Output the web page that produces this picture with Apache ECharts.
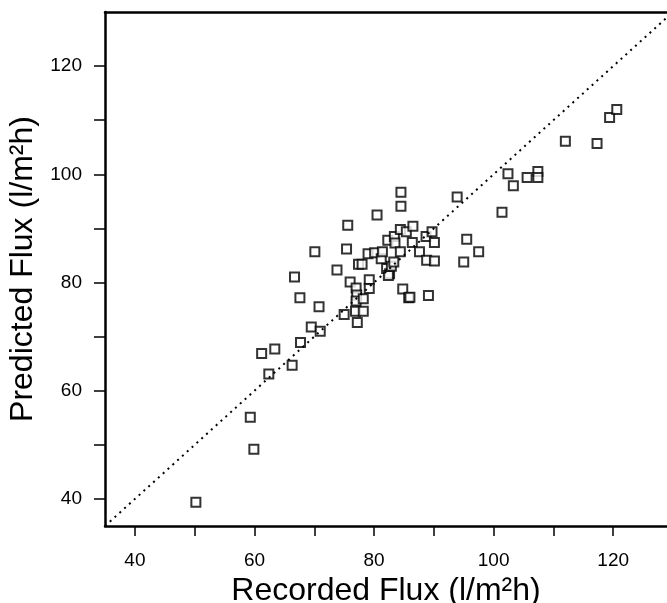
<!DOCTYPE html>
<html>
<head>
<meta charset="utf-8">
<script src="https://cdn.jsdelivr.net/npm/echarts@6/dist/echarts.min.js"></script>
<style>
  html, body { margin: 0; padding: 0; background: #fff; }
  #chart { width: 667px; height: 603px; }
</style>
</head>
<body>
<div id="chart"></div>
<script>
// recorded flux (l/m2h)
var recorded = [
  50.2, 59.3, 59.9, 61.2, 63.4, 62.4, 66.3, 66.7, 67.6, 67.7,
  69.5, 70.1, 70.8, 71.0, 73.8, 75.0, 75.4, 75.6, 76.0, 77.0,
  77.1, 77.0, 76.9, 77.2, 78.2, 78.2, 77.4, 78.0, 79.0, 80.1,
  79.2, 79.2, 80.5, 81.2, 81.4, 82.3, 82.1, 82.6, 82.4, 82.9,
  83.3, 83.4, 83.5, 84.4, 84.5, 84.5, 84.4, 85.4, 84.8, 85.8,
  86.0, 86.5, 86.4, 87.6, 88.7, 88.8, 89.1, 89.7, 90.1, 90.1,
  93.9, 95.0, 95.5, 97.5, 101.4, 102.4, 103.3, 105.6, 107.4, 107.4,
  112.0, 117.3, 119.4, 120.6
];
// predicted flux (l/m2h)
var predicted = [
  39.4, 55.1, 49.2, 66.9, 67.7, 63.1, 64.7, 81.0, 77.2, 68.9,
  71.8, 85.7, 75.5, 71.0, 82.3, 74.1, 86.2, 90.6, 80.1, 79.0,
  77.7, 76.6, 74.7, 72.6, 74.7, 77.0, 83.4, 83.4, 85.3, 85.5,
  80.5, 78.9, 92.5, 84.4, 85.7, 87.8, 82.6, 81.6, 81.3, 83.0,
  83.8, 88.5, 87.3, 89.8, 96.7, 94.1, 85.7, 89.4, 78.8, 77.2,
  77.3, 90.4, 87.4, 85.7, 88.5, 84.1, 77.6, 89.4, 87.4, 84.0,
  95.8, 83.8, 88.0, 85.7, 93.0, 100.1, 97.9, 99.4, 100.5, 99.4,
  106.1, 105.7, 110.5, 112.0
];
// y = x reference line ends
var diagonal = [35, 129];
var tickValues = [40, 50, 60, 70, 80, 90, 100, 110, 120];
var labelValues = [40, 60, 80, 100, 120];

var points = recorded.map(function (x, i) { return [x, predicted[i]]; });
var lineData = diagonal.map(function (v) { return [v, v]; });

var font = 'Liberation Sans';
var chart = echarts.init(document.getElementById('chart'));
chart.setOption({
  animation: false,
  backgroundColor: '#fff',
  grid: { left: 105, right: 0, top: 12, bottom: 77, outerBoundsMode: 'none', containLabel: false },
  xAxis: [{
    type: 'value', min: 35, max: 129,
    name: 'Recorded Flux (l/m²h)', nameLocation: 'middle', nameGap: 44,
    nameTextStyle: { fontFamily: font, fontSize: 32, color: '#000' },
    axisLine: { show: true, onZero: false, lineStyle: { color: '#000', width: 2.5 } },
    axisTick: { show: true, customValues: tickValues, length: 10, lineStyle: { color: '#000', width: 1.5 } },
    axisLabel: { customValues: labelValues, margin: 25, fontFamily: font, fontSize: 19, color: '#000' },
    splitLine: { show: false }
  }, {
    type: 'value', position: 'top', min: 35, max: 129,
    axisLine: { show: true, onZero: false, lineStyle: { color: '#000', width: 2.5 } },
    axisTick: { show: false }, axisLabel: { show: false }, splitLine: { show: false }
  }],
  yAxis: {
    type: 'value', min: 35, max: 130,
    name: 'Predicted Flux (l/m²h)', nameLocation: 'middle', nameGap: 63,
    nameTextStyle: { fontFamily: font, fontSize: 32, color: '#000' },
    axisLine: { show: true, onZero: false, lineStyle: { color: '#000', width: 2.5 } },
    axisTick: { show: true, customValues: tickValues, length: 11, lineStyle: { color: '#000', width: 1.5 } },
    axisLabel: { customValues: labelValues, margin: 23, fontFamily: font, fontSize: 19, color: '#000' },
    splitLine: { show: false }
  },
  series: [{
    type: 'line',
    data: lineData,
    symbol: 'none',
    silent: true,
    lineStyle: { color: '#000', width: 2, type: [2, 4.5] }
  }, {
    type: 'scatter',
    data: points,
    symbol: 'rect',
    symbolSize: 9,
    itemStyle: { color: '#fff', borderColor: '#000', borderWidth: 2 }
  }]
});
</script>
</body>
</html>
